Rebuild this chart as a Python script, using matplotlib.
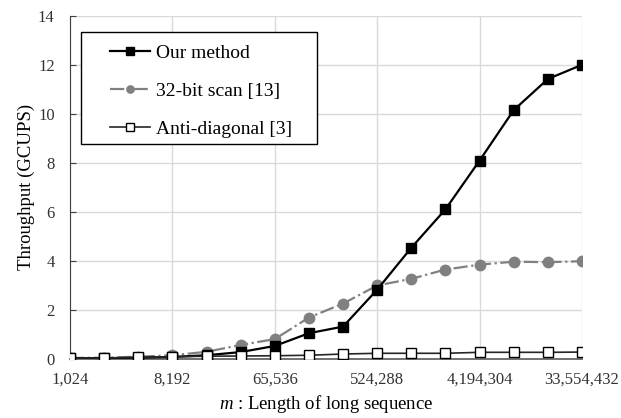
import matplotlib
matplotlib.use("Agg")
import matplotlib.pyplot as plt
from matplotlib.patches import Rectangle
import numpy as np

# sequence length m = 2^10 .. 2^25
m_len = [2 ** k for k in range(10, 26)]
ours = [0.02, 0.02, 0.04, 0.07, 0.14, 0.27, 0.52, 1.04, 1.31, 2.82,
        4.53, 6.10, 8.09, 10.15, 11.42, 12.00]
scan32 = [0.03, 0.04, 0.08, 0.14, 0.28, 0.56, 0.80, 1.68, 2.25, 2.99,
          3.26, 3.64, 3.84, 3.96, 3.94, 3.98]
antidiag = [0.02, 0.03, 0.05, 0.08, 0.10, 0.11, 0.12, 0.14, 0.19, 0.22,
            0.22, 0.22, 0.26, 0.26, 0.26, 0.27]
labels = ["Our method", "32-bit scan [13]", "Anti-diagonal [3]"]
tick_idx = [0, 3, 6, 9, 12, 15]

plt.rcParams["font.family"] = ["Liberation Serif", "DejaVu Serif"]
plt.rcParams["mathtext.fontset"] = "custom"
plt.rcParams["mathtext.it"] = "Liberation Serif:italic"

fig = plt.figure(figsize=(6.21, 4.18), dpi=100)
ax = fig.add_axes([0.1127, 0.1419, 0.8245, 0.8203])
x = np.arange(len(m_len))

ax.plot(x, ours, "-", color="black", lw=1.6, marker="s", ms=7.5,
        mfc="black", mec="black", label=labels[0], zorder=4)
ax.plot(x, scan32, "-.", color="#808080", lw=1.6, marker="o", ms=7.5,
        mfc="#808080", mec="#808080", label=labels[1], zorder=3)
ax.plot(x, antidiag, "-", color="#262626", lw=1.2, marker="s", ms=7.5,
        mfc="white", mec="black", mew=1.0, label=labels[2], zorder=5)

ax.set_xlim(0, len(m_len) - 1)
ax.set_ylim(0, 14)
ax.set_yticks(np.arange(0, 15, 2))
ax.set_xticks(tick_idx)
ax.set_xticklabels([f"{m_len[i]:,}" for i in tick_idx])
ax.tick_params(axis="x", length=0, pad=9, labelsize=12)
ax.tick_params(axis="y", direction="in", length=4, width=0.8,
               pad=11, labelsize=12, color="#404040")
ax.grid(True, color="#d9d9d9", lw=1.0, zorder=0)
ax.set_axisbelow(True)
for s in ["top", "right"]:
    ax.spines[s].set_visible(False)
ax.spines["left"].set_color("#404040")
ax.spines["bottom"].set_color("#595959")
ax.spines["bottom"].set_linewidth(1.2)
for t in ax.get_yticklabels() + ax.get_xticklabels():
    t.set_color("#333333")

ax.set_xlabel(r"$m$ : Length of long sequence", fontsize=13.5, labelpad=4)
ax.set_ylabel("Throughput (GCUPS)", fontsize=13.5, labelpad=2)

# legend box drawn separately so the wide left margin matches
ax.add_patch(Rectangle((0.0215, 0.626), 0.461, 0.327, transform=ax.transAxes,
                       facecolor="white", edgecolor="black", lw=1.0,
                       zorder=6, clip_on=False))
leg = ax.legend(loc="upper left", bbox_to_anchor=(0.078, 0.918),
                fontsize=14, handlelength=2.05, markerscale=0.7,
                labelspacing=1.05, borderpad=0.0, handletextpad=0.3,
                borderaxespad=0.0, frameon=False)
leg.set_zorder(7)

fig.savefig("out.png", dpi=100)
